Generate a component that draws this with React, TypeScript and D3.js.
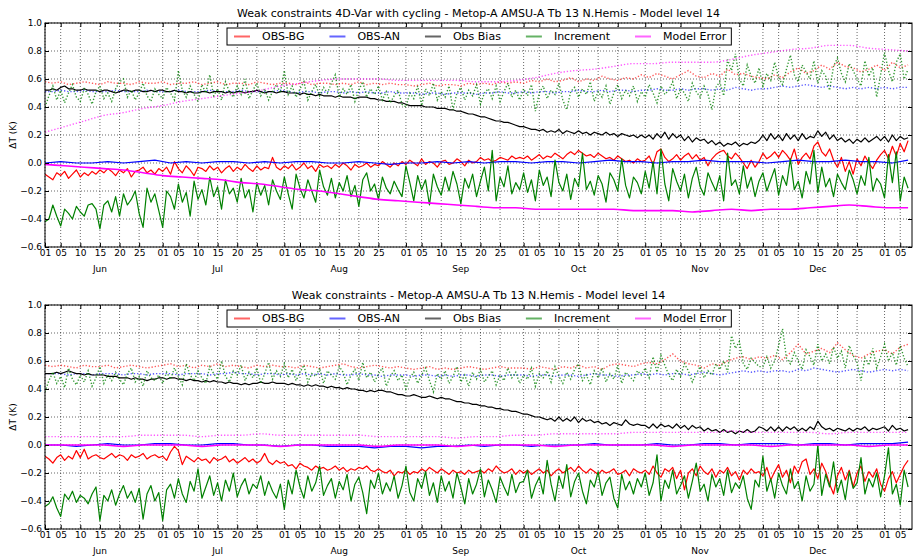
import React, { useEffect, useRef } from "react";
import * as d3 from "d3";

// daily analysis dates, 1 Jun -> 7 Jan (221 days)
const startDay = new Date(2010, 5, 1);
const endDay = d3.timeDay.offset(startDay, 221);
const days = d3.timeDay.range(startDay, endDay);
const every = (n: number) => days.filter((_, i) => i % n === 0);

const seriesNames = ["OBS-BG", "OBS-AN", "Obs Bias", "Increment", "Model Error"];
const seriesColors = ["#ff0000", "#0000ff", "#000000", "#008000", "#ff00ff"];
const yTicks = [-0.6, -0.4, -0.2, 0.0, 0.2, 0.4, 0.6, 0.8, 1.0];
const dayTicks = [1, 5, 10, 15, 20, 25];
const titles = [
  "Weak constraints 4D-Var with cycling - Metop-A AMSU-A Tb 13 N.Hemis - Model level 14",
  "Weak constraints - Metop-A AMSU-A Tb 13 N.Hemis - Model level 14",
];

// ---- values in hundredths of K ----
// top panel
const bgMeanTop = [
  -8,-10,-12,-7,-9,-6,-11,-8,-5,-10,-7,-9,-6,-8,-5,-7,-4,-6,-9,-5,-7,-4,-10,-6,-5,-3,-7,-5,-8,-4,
  -6,-3,-8,1,-4,-7,-2,-5,-9,-3,-4,-6,-2,-5,-3,-7,-4,-2,-6,-3,-5,-1,-4,-6,-2,-5,-3,-4,4,-3,-5,
  -2,-4,-1,-5,-3,0,-4,-2,-6,-1,-3,-2,-4,-1,-3,0,-2,-5,-1,-3,-2,0,-3,-1,-2,1,-1,-3,0,-2,1,
  -1,2,0,-2,3,-1,1,0,-3,1,2,-1,0,3,1,-2,2,0,1,4,2,3,1,2,4,3,2,5,3,4,
  3,5,2,4,6,3,5,4,7,5,3,6,8,6,9,7,5,6,4,7,5,3,4,2,5,3,1,2,0,3,1,
  2,5,-1,8,10,4,1,3,6,2,5,7,3,6,2,4,-2,3,6,8,9,5,3,7,4,0,-4,2,-3,1,
  7,3,5,8,4,9,6,2,10,-1,4,7,3,12,15,8,5,10,2,-3,4,-6,1,-8,3,-2,5,0,-4,2,6,
  9,3,12,5,14,8,16,
];
const bgStdTop = [
  58,57,58,56,57,58,57,56,58,57,57,56,58,57,57,
  58,56,57,57,58,56,57,58,56,57,57,56,58,57,56,57,
  57,56,58,56,57,57,56,57,56,58,56,57,56,57,56,
  56,55,56,57,55,56,56,55,57,56,57,56,58,57,58,
  57,59,58,60,58,59,61,58,60,59,62,60,59,61,60,63,
  61,64,62,60,63,66,62,61,64,62,67,63,64,62,61,
  60,63,61,65,68,64,66,70,67,72,69,68,65,67,70,
  66,72,68,70,
];
const anMeanTop = [
  0,1,0,0,1,0,1,2,0,1,0,1,1,0,1,0,1,1,0,0,1,0,-1,0,0,1,0,1,0,1,
  1,0,1,1,0,1,2,1,1,0,1,1,2,1,1,1,0,1,2,1,1,2,1,1,0,2,
];
const anStdTop = [
  51,51,52,51,51,52,51,51,51,52,51,51,51,52,51,
  51,51,52,51,51,51,52,51,51,51,52,51,51,51,51,52,
  51,50,51,51,50,51,51,50,51,50,51,50,50,51,50,
  50,50,49,50,50,49,50,50,50,49,50,50,51,50,50,
  51,50,51,51,50,51,51,52,51,51,52,51,52,52,51,52,
  52,53,52,52,53,52,53,53,52,53,52,54,53,52,53,
  53,54,55,54,55,56,55,54,55,54,53,54,53,54,53,
  54,53,54,54,
];
const biasTop = [
  52,52,53,52,54,55,53,53,52,52,53,52,52,52,51,52,52,51,50,51,52,52,51,52,52,51,51,52,51,52,
  52,51,51,52,51,51,50,51,50,50,51,51,50,51,51,51,50,51,50,51,51,50,51,51,52,51,50,51,51,50,51,
  51,50,50,50,49,50,49,49,48,49,48,48,48,47,48,47,47,47,46,47,47,47,46,46,45,45,44,44,44,43,43,
  42,41,41,41,41,40,40,40,39,39,39,38,38,37,37,36,35,35,34,33,33,32,31,30,30,29,29,28,27,26,
  26,25,24,24,23,24,22,23,22,24,21,23,22,21,23,21,22,20,22,21,20,22,20,21,19,21,20,19,20,18,20,
  18,20,17,21,18,22,17,21,18,20,16,19,15,18,16,17,14,16,13,15,12,14,13,15,12,14,13,15,14,16,
  20,16,21,17,20,16,21,17,20,16,21,17,19,18,23,19,22,17,20,16,18,15,17,14,17,15,18,15,17,19,16,
  19,15,20,16,19,17,18,
];
const incMeanTop = [
  -42,-40,-30,-38,-45,-33,-36,-40,-31,-35,-38,-30,-29,-33,-47,-30,-27,-35,-24,-38,-22,-30,-26,-20,-36,-46,-18,-28,-22,-34,
  -46,-20,-24,-33,-15,-28,-21,-38,-13,-26,-19,-30,-10,-24,-17,-33,-12,-22,-18,-28,-11,-25,-19,-35,-14,-23,-16,-30,-12,-20,-26,
  -10,-22,-33,-8,-18,-25,-12,-20,-28,-5,-17,-23,-11,-25,-14,-20,-9,-24,-16,-31,-12,-7,-20,-15,-26,-10,-18,-22,-13,-19,-24,
  -2,-14,-27,-9,-19,-12,-30,-8,-17,-23,-10,-20,-6,-15,-29,-11,-18,-8,-24,-13,-3,-20,9,-27,-10,-17,-2,-22,-14,-19,
  -7,-21,-12,-27,-5,-16,-10,-24,2,-14,-20,-8,-26,-11,-17,7,-19,-13,-23,-9,-15,-28,-7,-12,-20,3,-16,-25,-10,-14,-22,
  -6,-18,1,-22,10,-15,-27,-4,-13,-20,-8,-25,-11,-3,-17,-23,-7,-14,-20,-9,-27,7,-16,-12,-22,-2,-18,-10,-24,-13,
  -7,-20,-12,-4,-23,-9,-16,3,-19,-13,-25,-6,-15,9,-21,-3,-17,-11,-24,-8,-14,-19,-5,-12,-22,-9,-16,4,-20,-11,-15,
  -25,6,-14,8,-27,-10,-18,
];
const incStdTop = [
  40,48,55,45,52,43,50,56,47,44,53,49,42,51,55,46,50,44,53,58,60,47,52,45,50,57,48,44,53,49,
  46,54,50,45,66,52,47,55,49,44,56,50,63,48,53,45,58,51,47,55,49,60,46,52,57,48,53,45,51,56,50,
  66,49,55,47,53,58,45,51,56,48,54,50,57,63,47,53,49,56,44,52,58,47,53,49,55,45,51,43,48,52,42,
  40,50,46,55,41,53,48,57,45,51,47,55,38,50,54,45,52,48,56,42,50,53,46,55,44,51,57,47,52,45,
  53,48,56,37,50,55,46,52,49,57,45,38,51,54,47,53,49,58,44,51,47,55,42,50,56,46,52,48,55,44,51,
  47,56,50,43,55,49,52,58,46,53,50,44,57,51,47,55,49,38,54,58,48,74,66,78,60,55,70,62,57,68,
  55,64,59,72,61,56,67,77,63,58,70,65,60,73,57,66,62,52,69,75,64,58,71,66,60,55,73,62,68,47,63,
  79,66,58,72,78,60,67,
];
const meMeanTop = [
  -1,-2,-3,-4,-5,-7,-9,-10,-11,-12,-14,-15,-17,-19,-20,-22,-24,-26,-27,-28,-29,-30,-31,
  -32,-32,-33,-33,-33,-33,-33,-34,-34,-34,-35,-34,-33,-34,-33,-33,-32,-31,-30,-31,-32,-32,
];
const meStdTop = [
  22,26,30,34,36,39,41,44,46,48,50,52,55,57,59,60,60,60,59,59,59,59,58,
  58,59,61,64,66,67,69,71,71,72,72,72,74,77,79,81,82,84,84,82,81,80,
];

// bottom panel
const bgMeanBot = [
  -8,-10,-13,-9,-7,-11,-8,-10,-4,-9,-3,-10,-8,-7,-9,-10,-8,-6,-9,-7,-8,-11,-7,-9,-8,-6,-10,-8,-7,-9,
  -8,-11,-5,-1,-4,-14,-8,-10,-12,-9,-11,-10,-13,-9,-11,-10,-8,-12,-10,-13,-11,-9,-12,-10,-13,-11,-6,-12,-14,-11,-13,
  -12,-15,-14,-17,-13,-15,-16,-18,-15,-17,-16,-18,-17,-15,-18,-16,-19,-17,-18,-16,-17,-15,-18,-19,-17,-19,-20,-18,-22,-19,-20,
  -18,-21,-19,-20,-17,-19,-16,-18,-20,-17,-19,-21,-18,-20,-19,-21,-18,-20,-19,-18,-20,-17,-19,-15,-18,-20,-19,-17,-21,-18,
  -20,-18,-21,-19,-17,-20,-18,-22,-19,-17,-20,-18,-16,-19,-15,-18,-20,-17,-19,-21,-18,-20,-19,-17,-21,-20,-18,-22,-17,-19,-20,
  -18,-21,-15,-20,-23,-17,-19,-16,-24,-18,-32,-20,-17,-22,-15,-19,-21,-17,-23,-18,-20,-16,-22,-19,-25,-18,-21,-17,-20,-19,
  -22,-16,-25,-19,-14,-23,-18,-27,-15,-20,-12,-10,-21,-17,-24,-13,-19,-28,-35,-22,-16,-25,-18,-30,-20,-15,-26,-19,-23,-17,-28,
  -33,-24,-19,-27,-21,-15,-11,
];
const bgStdBot = [
  57,56,57,56,55,57,56,56,57,55,56,57,56,55,56,
  57,58,56,57,55,57,56,58,56,57,56,55,57,56,57,56,
  56,55,57,56,55,56,57,58,56,55,56,57,56,55,56,
  55,54,55,56,54,55,54,55,56,55,54,55,56,55,55,
  55,54,56,55,54,56,55,57,55,56,54,57,58,57,56,58,
  59,58,61,65,60,58,57,55,58,57,60,62,63,61,63,
  62,64,61,66,72,65,67,69,66,73,68,64,62,65,67,
  68,65,70,72,
];
const anMeanBot = [
  0,0,-1,0,1,0,0,1,1,0,0,1,1,0,0,-1,0,0,-1,-1,-1,-2,-1,-1,-2,-1,-1,0,
  -1,0,0,-1,0,0,0,1,0,0,0,1,0,0,1,1,0,1,1,1,0,1,1,0,1,1,1,2,
];
const anStdBot = [
  51,51,51,50,51,51,50,51,51,51,50,51,51,50,51,
  51,51,50,51,51,51,50,51,51,52,51,51,50,51,51,50,
  51,50,51,50,51,50,51,50,50,51,50,50,49,50,50,
  50,49,50,50,49,50,49,50,50,49,50,50,49,50,50,
  50,49,50,50,49,50,50,49,50,51,50,50,49,50,50,51,
  50,51,50,51,51,50,51,52,51,50,51,52,53,52,53,
  52,53,53,52,54,53,55,54,53,52,53,54,53,52,53,
  54,53,54,53,
];
const biasBot = [
  51,51,51,52,51,52,53,52,51,51,50,51,50,50,50,50,49,49,49,48,48,48,47,48,47,47,46,47,47,48,
  48,47,48,48,47,47,46,47,46,46,45,46,45,46,45,45,44,45,44,44,43,44,43,44,44,45,44,44,45,44,44,
  44,43,44,43,43,42,43,42,43,42,42,41,42,41,41,40,41,40,40,39,39,38,39,38,39,39,38,38,37,36,36,
  35,35,36,35,34,34,35,34,33,34,33,33,32,31,31,30,30,29,29,28,28,27,27,26,26,25,25,24,24,23,
  22,22,21,20,20,19,18,19,17,20,17,19,17,20,16,19,17,18,16,17,15,16,14,16,15,14,18,15,14,15,14,
  14,12,15,12,15,13,14,12,15,12,14,11,14,12,13,10,12,10,11,9,11,9,10,8,10,9,11,9,10,13,
  12,10,13,10,13,10,13,11,13,10,12,10,13,11,17,13,11,12,10,12,11,10,12,10,12,11,13,10,12,11,12,
  13,10,14,11,12,10,11,
];
const incMeanBot = [
  -44,-42,-37,-45,-51,-35,-39,-33,-41,-36,-38,-42,-35,-30,-54,-36,-40,-32,-43,-35,-29,-38,-33,-41,-31,-53,-35,-29,-40,-34,
  -54,-32,-28,-38,-24,-35,-41,-26,-33,-17,-38,-30,-22,-36,-27,-40,-25,-33,-20,-37,-29,-24,-35,-28,-31,-22,-36,-26,-33,-38,-28,
  -46,-25,-35,-18,-30,-38,-22,-33,-27,-15,-36,-29,-24,-38,-26,-32,-21,-40,-28,-23,-34,-49,-25,-31,-20,-35,-27,-33,-22,-38,-29,
  -15,-34,-40,-24,-31,-19,-36,-27,-41,-22,-33,-26,-38,-20,-30,-42,-24,-35,-28,-17,-37,-25,-32,-41,-23,-30,-36,-21,-34,-27,
  -26,-18,-38,-29,-23,-35,-11,-28,-40,-22,-31,-14,-37,-26,-20,-33,-42,-25,-30,-19,-36,-27,-23,-38,-45,-21,-32,-26,-35,-24,-30,
  -20,-36,-27,-7,-40,-25,-31,-18,-35,-29,-22,-38,-26,-13,-33,-28,-40,-21,-30,-24,-36,-18,-34,-27,-31,-22,-38,-46,-25,-30,
  -8,-33,-24,-38,-20,-29,-35,-17,-31,-26,-40,-22,-33,-28,0,-36,-21,-30,-12,-34,-25,-39,-19,-31,-27,-9,-35,-24,-30,-20,-37,
  -22,-2,-35,-28,-43,-18,-30,
];
const incStdBot = [
  38,46,52,44,49,41,55,47,43,50,45,53,42,48,56,44,50,46,52,47,43,51,55,45,49,42,53,48,46,50,
  44,52,47,55,49,43,58,50,46,53,48,44,56,51,47,60,49,45,53,50,57,46,52,48,55,44,51,59,47,53,49,
  58,48,54,46,52,57,45,51,49,55,44,53,50,47,56,52,43,50,54,46,59,48,52,45,51,55,42,49,53,46,50,
  40,48,52,44,50,55,46,38,51,47,53,44,49,56,45,50,42,52,47,54,45,49,53,43,50,46,55,48,52,44,
  50,47,55,42,51,48,53,45,56,49,44,52,47,54,58,46,50,43,53,48,55,45,51,47,57,44,52,49,46,53,50,
  55,48,63,52,64,57,50,46,54,49,58,53,45,51,56,48,53,50,58,54,60,52,78,69,74,58,54,62,59,56,
  56,63,55,60,71,83,62,58,66,60,54,68,63,57,72,60,65,58,70,62,67,55,71,64,59,46,62,57,69,55,63,
  72,60,66,57,71,62,56,
];
const meMeanBot = [
  0,0,0,0,-1,0,0,0,-1,0,0,0,-1,0,0,0,0,-1,0,0,0,-1,0,
  0,0,0,-1,0,0,0,0,0,-1,0,0,0,0,-1,0,0,0,0,-1,0,0,
];
const meStdBot = [
  6,6,6,6,6,7,7,7,6,7,7,8,7,7,7,7,7,6,6,6,6,5,6,
  6,7,7,8,8,8,8,9,9,9,9,9,10,9,9,9,9,8,9,9,9,9,
];

const panels = [
  {
    title: titles[0], top: 23,
    mean: [[bgMeanTop, 1], [anMeanTop, 4], [biasTop, 1], [incMeanTop, 1], [meMeanTop, 5]],
    std: [[bgStdTop, 2], [anStdTop, 2], null, [incStdTop, 1], [meStdTop, 5]],
  },
  {
    title: titles[1], top: 305,
    mean: [[bgMeanBot, 1], [anMeanBot, 4], [biasBot, 1], [incMeanBot, 1], [meMeanBot, 5]],
    std: [[bgStdBot, 2], [anStdBot, 2], null, [incStdBot, 1], [meStdBot, 5]],
  },
];

const W = 913, H = 557;
const left = 45, right = 912, plotH = 224;
const font = "DejaVu Sans";

function drawPanel(svg, p, idx) {
  const x = d3.scaleTime().domain([startDay, endDay]).range([left, right]);
  const y = d3.scaleLinear().domain([-0.6, 1.0]).range([p.top + plotH, p.top]);
  const xTicks = days.filter(d => dayTicks.includes(d.getDate()));
  const clipId = "clip" + idx;

  svg.append("defs").append("clipPath").attr("id", clipId)
    .append("rect").attr("x", left).attr("y", p.top).attr("width", right - left).attr("height", plotH);

  const g = svg.append("g");

  // grid
  g.append("g").selectAll("line").data(xTicks).join("line")
    .attr("x1", d => x(d)).attr("x2", d => x(d))
    .attr("y1", p.top).attr("y2", p.top + plotH)
    .attr("stroke", "#000").attr("stroke-width", 0.6).attr("stroke-dasharray", "1,2");
  g.append("g").selectAll("line").data(yTicks).join("line")
    .attr("x1", left).attr("x2", right)
    .attr("y1", d => y(d)).attr("y2", d => y(d))
    .attr("stroke", "#000").attr("stroke-width", 0.6).attr("stroke-dasharray", "1,2");

  // series
  const lines = g.append("g").attr("clip-path", `url(#${clipId})`).attr("fill", "none");
  const path = (vals, step, curve) =>
    d3.line<number>().x((_, i) => x(days[i * step])).y(v => y(v / 100)).curve(curve)(vals);

  seriesColors.forEach((c, i) => {
    const [m, ms] = p.mean[i];
    lines.append("path")
      .attr("d", path(m, ms, ms >= 5 ? d3.curveMonotoneX : d3.curveLinear))
      .attr("stroke", c).attr("stroke-width", i === 4 ? 1.6 : 1.2)
      .attr("stroke-linejoin", "round");
    const s = p.std[i];
    if (s) {
      lines.append("path")
        .attr("d", path(s[0], s[1], s[1] >= 5 ? d3.curveMonotoneX : d3.curveLinear))
        .attr("stroke", c).attr("stroke-width", 1.4)
        .attr("stroke-dasharray", "1.3,1.9")
        .attr("opacity", i === 3 ? 0.8 : 0.65);
    }
  });

  // axes
  const styleAxis = (a) => {
    a.select(".domain").remove();
    a.attr("font-family", font).attr("font-size", 9);
    a.selectAll("text").attr("fill", "#000");
  };
  g.append("g").attr("transform", `translate(0,${p.top + plotH})`)
    .call(d3.axisBottom(x).tickValues(xTicks).tickFormat(d3.timeFormat("%d")).tickSizeInner(-4).tickSizeOuter(0).tickPadding(3))
    .call(styleAxis);
  g.append("g").attr("transform", `translate(0,${p.top})`)
    .call(d3.axisTop(x).tickValues(xTicks).tickFormat(() => "").tickSizeInner(-4).tickSizeOuter(0))
    .call(styleAxis);
  g.append("g").attr("transform", `translate(${left},0)`)
    .call(d3.axisLeft(y).tickValues(yTicks).tickFormat(d3.format(".1f")).tickSizeInner(-4).tickSizeOuter(0).tickPadding(3))
    .call(styleAxis);
  g.append("g").attr("transform", `translate(${right},0)`)
    .call(d3.axisRight(y).tickValues(yTicks).tickFormat(() => "").tickSizeInner(-4).tickSizeOuter(0))
    .call(styleAxis);

  // month names under the 15th
  const months = d3.timeMonth.range(startDay, endDay)
    .map(m => new Date(m.getFullYear(), m.getMonth(), 15))
    .filter(d => d < endDay);
  g.append("g").selectAll("text").data(months).join("text")
    .attr("x", d => x(d)).attr("y", p.top + plotH + 25)
    .attr("text-anchor", "middle").attr("font-family", font).attr("font-size", 9)
    .text(d3.timeFormat("%b"));

  g.append("rect").attr("x", left).attr("y", p.top).attr("width", right - left).attr("height", plotH)
    .attr("fill", "none").attr("stroke", "#000").attr("stroke-width", 1);

  // title and y label
  svg.append("text").attr("x", (left + right) / 2).attr("y", p.top - 6)
    .attr("text-anchor", "middle").attr("font-family", font).attr("font-size", 11)
    .text(p.title);
  svg.append("text").attr("transform", `translate(16,${p.top + plotH / 2}) rotate(-90)`)
    .attr("text-anchor", "middle").attr("font-family", font).attr("font-size", 9)
    .text("ΔT (K)");

  // legend
  const lg = svg.append("g");
  const box = lg.append("rect").attr("x", 227).attr("y", p.top + 5).attr("height", 17)
    .attr("fill", "#fff").attr("stroke", "#000").attr("stroke-width", 1);
  const cy = p.top + 13.5;
  let cx = 234;
  seriesNames.forEach((name, i) => {
    lg.append("line").attr("x1", cx).attr("x2", cx + 16).attr("y1", cy).attr("y2", cy)
      .attr("stroke", seriesColors[i]).attr("stroke-width", 2).attr("opacity", 0.6);
    const t = lg.append("text").attr("x", cx + 28).attr("y", cy).attr("dy", "0.35em")
      .attr("font-family", font).attr("font-size", 11).text(name);
    const w = (t.node() as SVGTextElement).getComputedTextLength();
    cx = cx + 28 + w + 25;
  });
  box.attr("width", cx - 25 + 5 - 227);
}

export default function App() {
  const ref = useRef<SVGSVGElement>(null);
  useEffect(() => {
    document.body.style.margin = "0";
    const svg = d3.select(ref.current);
    svg.selectAll("*").remove();
    panels.forEach((p, i) => drawPanel(svg, p, i));
  }, []);
  return <svg ref={ref} width={W} height={H} style={{ display: "block", background: "#fff" }} />;
}
